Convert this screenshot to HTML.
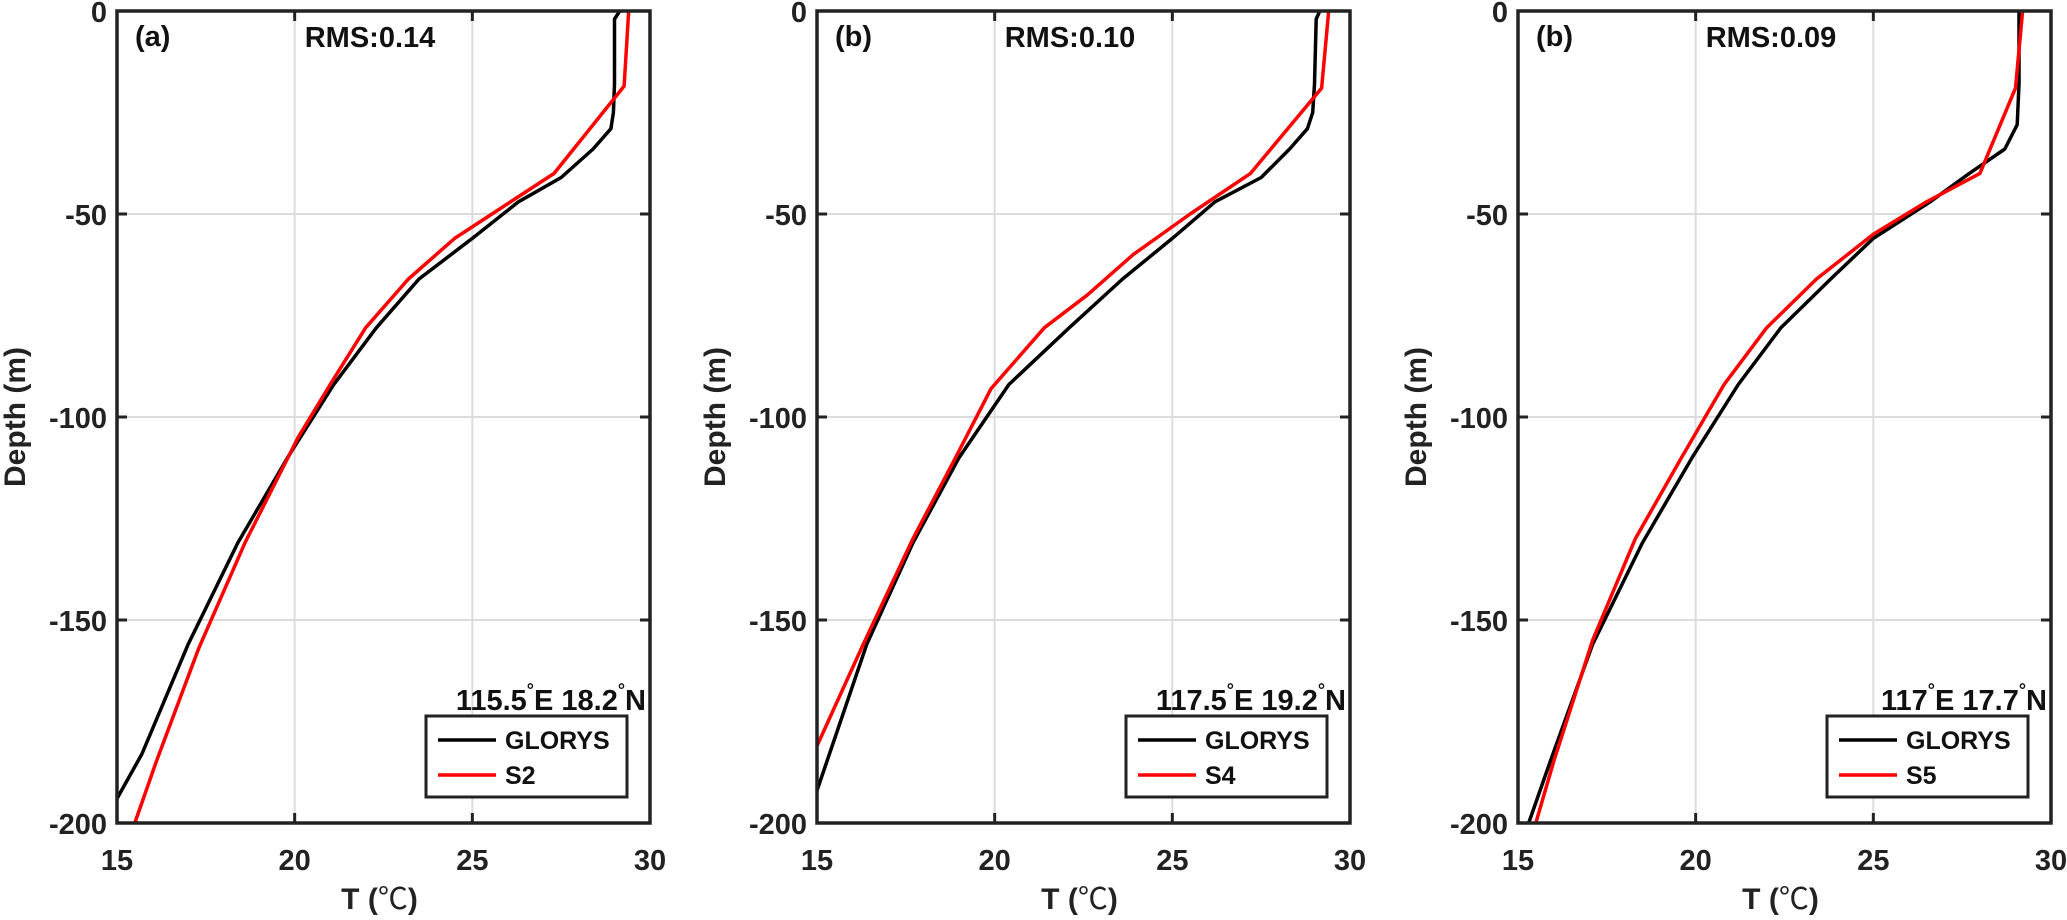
<!DOCTYPE html>
<html><head><meta charset="utf-8">
<style>
html,body{margin:0;padding:0;background:#fff;}
svg{display:block;font-family:"Liberation Sans",Arial,sans-serif;font-weight:bold;}
</style></head>
<body>
<svg id="chart" width="2067" height="920" viewBox="0 0 2067 920"></svg>
<script>
const xTicks=[15,20,25,30];
const yTicks=[0,-50,-100,-150,-200];
const panelLabels=["(a)","(b)","(b)"];
const rmsLabels=["RMS:0.14","RMS:0.10","RMS:0.09"];
const locLon=["115.5","117.5","117"];
const locLat=["18.2","19.2","17.7"];
const modelNames=["S2","S4","S5"];
const gloT_a=[29.15,29.0,29.0,28.97,28.9,28.4,27.5,26.3,25.0,23.5,22.3,21.1,19.8,18.4,17.0,15.7,15.0];
const gloD_a=[0,-2,-18,-25,-29,-34,-41,-47,-56,-66,-78,-92,-110,-131,-156,-183,-194];
const modT_a=[29.4,29.27,27.3,24.5,23.2,22.0,21.0,20.1,18.6,17.3,16.1,15.5];
const modD_a=[0,-18.5,-40,-56,-66,-78,-92,-105,-131,-157,-185,-200];
const gloT_b=[29.15,29.05,29.0,28.95,28.8,28.3,27.5,26.2,25.0,23.6,22.1,20.4,19.0,17.7,16.4,15.0];
const gloD_b=[0,-2,-18,-25,-29,-34,-41,-47,-56,-66,-78,-92,-110,-131,-156,-192];
const modT_b=[29.4,29.2,27.2,25.5,23.9,22.6,21.4,19.9,18.9,17.7,16.3,15.0];
const modD_b=[0,-19,-40,-50,-60,-70,-78,-93,-110,-130,-156,-181];
const gloT_c=[29.1,29.1,29.05,28.7,27.7,26.6,25.0,23.8,22.4,21.2,19.9,18.5,17.1,15.9,15.3];
const gloD_c=[0,-18,-28,-34,-40,-47,-56,-66,-78,-92,-110,-131,-156,-185,-200];
const modT_c=[29.2,29.0,28.0,26.5,25.0,23.4,22.0,20.8,19.6,18.3,17.1,16.0,15.5];
const modD_c=[0,-19,-40,-47,-55,-66,-78,-92,-110,-130,-155,-185,-200];
const gloT=[gloT_a,gloT_b,gloT_c], gloD=[gloD_a,gloD_b,gloD_c];
const modT=[modT_a,modT_b,modT_c], modD=[modD_a,modD_b,modD_c];

const NS="http://www.w3.org/2000/svg";
const svgEl=document.getElementById('chart');
function mk(tag,attrs,parent){const e=document.createElementNS(NS,tag);for(const k in attrs)e.setAttribute(k,attrs[k]);(parent||svgEl).appendChild(e);return e;}
const lefts=[117,817,1518], PW=533, plotTop=11, plotBot=823;
lefts.forEach((L,p)=>{
  const R=L+PW;
  const sx=v=>L+(v-15)/15*PW;
  const sy=v=>plotTop+(0-v)/200*(plotBot-plotTop);
  const g=mk('g',{});
  
  
  xTicks.forEach(t=>{
    const gl=mk('line',{x1:sx(t),x2:sx(t),y1:plotTop,y2:plotBot,stroke:'#dcdcdc','stroke-width':2},g);
    
    
    mk('line',{x1:sx(t),x2:sx(t),y1:plotBot,y2:plotBot-10,stroke:'#222','stroke-width':3},g);
    mk('line',{x1:sx(t),x2:sx(t),y1:plotTop,y2:plotTop+10,stroke:'#222','stroke-width':3},g);
    const tl=mk('text',{x:sx(t),y:870,'text-anchor':'middle','font-size':29,fill:'#222'},g);
    tl.textContent=t;
    
    
  });
  yTicks.forEach(t=>{
    const gl=mk('line',{x1:L,x2:R,y1:sy(t),y2:sy(t),stroke:'#dcdcdc','stroke-width':2},g);
    
    
    mk('line',{x1:L,x2:L+10,y1:sy(t),y2:sy(t),stroke:'#222','stroke-width':3},g);
    mk('line',{x1:R,x2:R-10,y1:sy(t),y2:sy(t),stroke:'#222','stroke-width':3},g);
    const tl=mk('text',{x:L-10,y:sy(t)+11,'text-anchor':'end','font-size':29,fill:'#222'},g);
    tl.textContent=t;
    
    
  });
  const pts=(T,D)=>T.map((v,i)=>sx(v).toFixed(1)+','+sy(D[i]).toFixed(1)).join(' ');
  const gl=mk('polyline',{points:pts(gloT[p],gloD[p]),fill:'none',stroke:'#000','stroke-width':3.5,'stroke-linejoin':'round'},g);
  
  
  const ml=mk('polyline',{points:pts(modT[p],modD[p]),fill:'none',stroke:'#f00','stroke-width':3.5,'stroke-linejoin':'round'},g);
  
  
  const fr=mk('rect',{x:L,y:plotTop,width:PW,height:plotBot-plotTop,fill:'none',stroke:'#222','stroke-width':3.5},g);
  
  
  const pl=mk('text',{x:L+18,y:plotTop+35,'font-size':29,fill:'#111'},g);
  pl.textContent=panelLabels[p];
  
  
  const rm=mk('text',{x:L+253,y:plotTop+36,'text-anchor':'middle','font-size':29,fill:'#111'},g);
  rm.textContent=rmsLabels[p];
  
  
  const lx=R-23-201;
  const loc=mk('text',{x:R-4,y:710,'text-anchor':'end','font-size':29,fill:'#111'},g);
  loc.innerHTML=locLon[p]+'<tspan dy="-14" font-size="18">°</tspan><tspan dy="14">E '+locLat[p]+'</tspan><tspan dy="-14" font-size="18">°</tspan><tspan dy="14">N</tspan>';
  
  
  const lg=mk('g',{},g);
  
  
  mk('rect',{x:lx,y:716,width:201,height:81,fill:'#fff',stroke:'#222','stroke-width':3},lg);
  mk('line',{x1:lx+12,x2:lx+70,y1:740,y2:740,stroke:'#000','stroke-width':3.5},lg);
  mk('line',{x1:lx+12,x2:lx+70,y1:775,y2:775,stroke:'#f00','stroke-width':3.5},lg);
  const t1=mk('text',{x:lx+79,y:749,'font-size':25,fill:'#111'},lg);t1.textContent='GLORYS';
  
  
  const t2=mk('text',{x:lx+79,y:784,'font-size':25,fill:'#111'},lg);t2.textContent=modelNames[p];
  
  
  const xl=mk('text',{x:L+PW/2-4,y:909,'text-anchor':'middle','font-size':30,fill:'#222'},g);
  xl.innerHTML='T (<tspan font-weight="normal" font-family="Noto Sans CJK SC, sans-serif">℃</tspan>)';
  
  
  const yl=mk('text',{x:0,y:0,'text-anchor':'middle','font-size':30,fill:'#222',transform:'translate('+(L-92)+','+((plotTop+plotBot)/2)+') rotate(-90)'},g);
  yl.textContent='Depth (m)';
  
  
});
</script>
</body></html>
